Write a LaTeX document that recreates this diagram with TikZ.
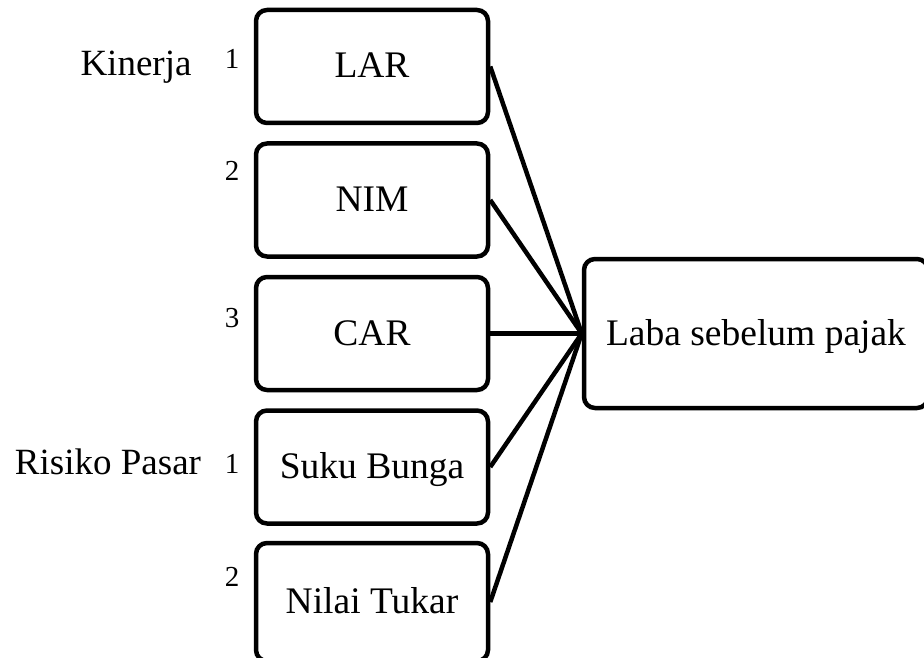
\documentclass[tikz,border=0pt]{standalone}
\usepackage{fontspec}
\setmainfont{Liberation Serif}
\begin{document}
\begin{tikzpicture}[x=1pt,y=-1pt,
  box/.style={draw, line width=4.5pt, rounded corners=11pt, minimum width=232pt, minimum height=113pt, inner sep=0pt, font=\fontsize{37.5}{40}\selectfont, text height=23pt, text depth=0pt},
  bigbox/.style={box, minimum width=344pt, minimum height=149pt},
  conn/.style={line width=4.5pt},
  lbl/.style={anchor=base, font=\fontsize{37}{40}\selectfont, inner sep=0pt},
  num/.style={anchor=base, font=\fontsize{29}{32}\selectfont, inner sep=0pt}]
\useasboundingbox (0,0) rectangle (924,658);
\clip (0,0) rectangle (924,658);
\node[box] (lar) at (372,66.5) {LAR};
\node[box] (nim) at (372,200) {NIM};
\node[box] (car) at (372,333.5) {CAR};
\node[box] (suku) at (372,467) {Suku Bunga};
\node[box, minimum height=118pt] (nilai) at (372,602) {Nilai Tukar};
\node[bigbox] (laba) at (756,333.5) {Laba sebelum pajak};
\foreach \n in {lar,nim,car,suku,nilai}
  \draw[conn] (\n.east) -- (laba.west);
\node[lbl] (kin) at (136,76) {Kinerja};
\node[lbl] (ris) at (108,474) {Risiko Pasar};
\node[num] (n1) at (232,69) {1};
\node[num] (n2) at (232,180) {2};
\node[num] (n3) at (232,327) {3};
\node[num] (n4) at (232,473) {1};
\node[num] (n5) at (232,586) {2};
\end{tikzpicture}
\end{document}
